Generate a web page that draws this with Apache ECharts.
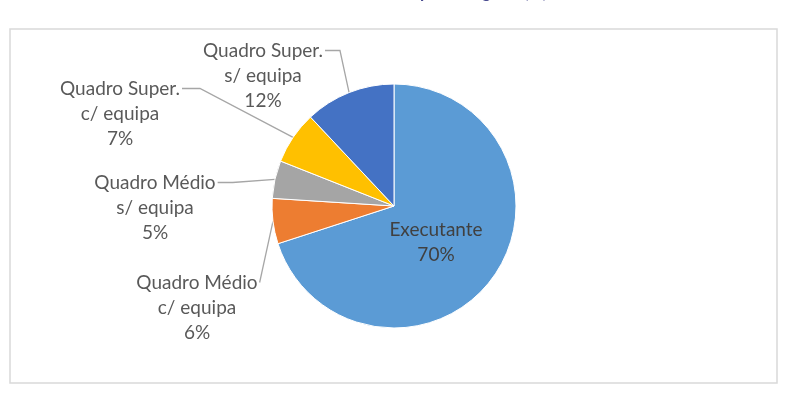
<!DOCTYPE html>
<html>
<head>
<meta charset="utf-8">
<script src="https://cdn.jsdelivr.net/npm/echarts@6/dist/echarts.min.js"></script>
<style>
  html, body { margin: 0; padding: 0; background: #fff; }
  #chart { width: 785px; height: 394px; }
</style>
</head>
<body>
<div id="chart"></div>
<script>
// dados do gráfico (ordem no sentido dos ponteiros, a partir do topo)
const categorias = [
  "Executante",
  "Quadro Médio\nc/ equipa",
  "Quadro Médio\ns/ equipa",
  "Quadro Super.\nc/ equipa",
  "Quadro Super.\ns/ equipa"
];
const percentagens = [70, 6, 5, 7, 12];
const cores = ["#5b9bd5", "#ed7d31", "#a5a5a5", "#ffc000", "#4472c4"];

// posição dos rótulos (centro x, topo y, cotovelo da linha)
const posRotulos = [
  { x: 436, y: 217, elbow: -1 },
  { x: 197, y: 270, elbow: 0 },
  { x: 155, y: 170, elbow: 15 },
  { x: 120, y: 76, elbow: 18 },
  { x: 263, y: 38, elbow: 15 }
];

const chart = echarts.init(document.getElementById("chart"));

const dados = categorias.map(function (nome, i) {
  const item = { name: nome, value: percentagens[i], itemStyle: { color: cores[i] } };
  if (i === 0) {
    item.label = { position: "inside", color: "#404040" };
    item.labelLine = { show: false };
  }
  return item;
});

chart.setOption({
  animation: false,
  graphic: [
    {
      type: "rect",
      shape: { x: 10, y: 29, width: 767, height: 354 },
      style: { fill: "none", stroke: "#d9d9d9", lineWidth: 1.5 }
    },
    {
      // título cortado no topo da imagem
      type: "text",
      x: 420, y: 1,
      style: {
        text: "por categoria (%)",
        font: "bold 17px Lato",
        fill: "#4a4c90",
        verticalAlign: "bottom"
      }
    }
  ],
  series: [
    {
      type: "pie",
      center: [394, 206],
      radius: 122,
      startAngle: 90,
      clockwise: true,
      data: dados,
      itemStyle: { borderColor: "#fff", borderWidth: 1 },
      label: {
        show: true,
        formatter: "{b}\n{c}%",
        fontFamily: "Lato",
        fontSize: 19,
        lineHeight: 25,
        color: "#595959",
        align: "center"
      },
      labelLine: {
        show: true,
        length: 10,
        length2: 10,
        lineStyle: { color: "#a6a6a6", width: 1.3 }
      },
      labelLayout: function (p) {
        const r = posRotulos[p.dataIndex];
        if (!r) return {};
        if (r.elbow < 0) {
          return { x: r.x, y: r.y, align: "center", verticalAlign: "top" };
        }
        const edge = p.labelLinePoints ? p.labelLinePoints[0] : null;
        const right = r.x + p.labelRect.width / 2 + 2;
        const ly = r.y + 12.5;
        const pts = [];
        if (edge) pts.push(edge);
        if (r.elbow) pts.push([right + r.elbow, ly]);
        pts.push([right, ly]);
        return {
          x: r.x,
          y: r.y,
          align: "center",
          verticalAlign: "top",
          labelLinePoints: pts
        };
      }
    }
  ]
});
</script>
</body>
</html>
